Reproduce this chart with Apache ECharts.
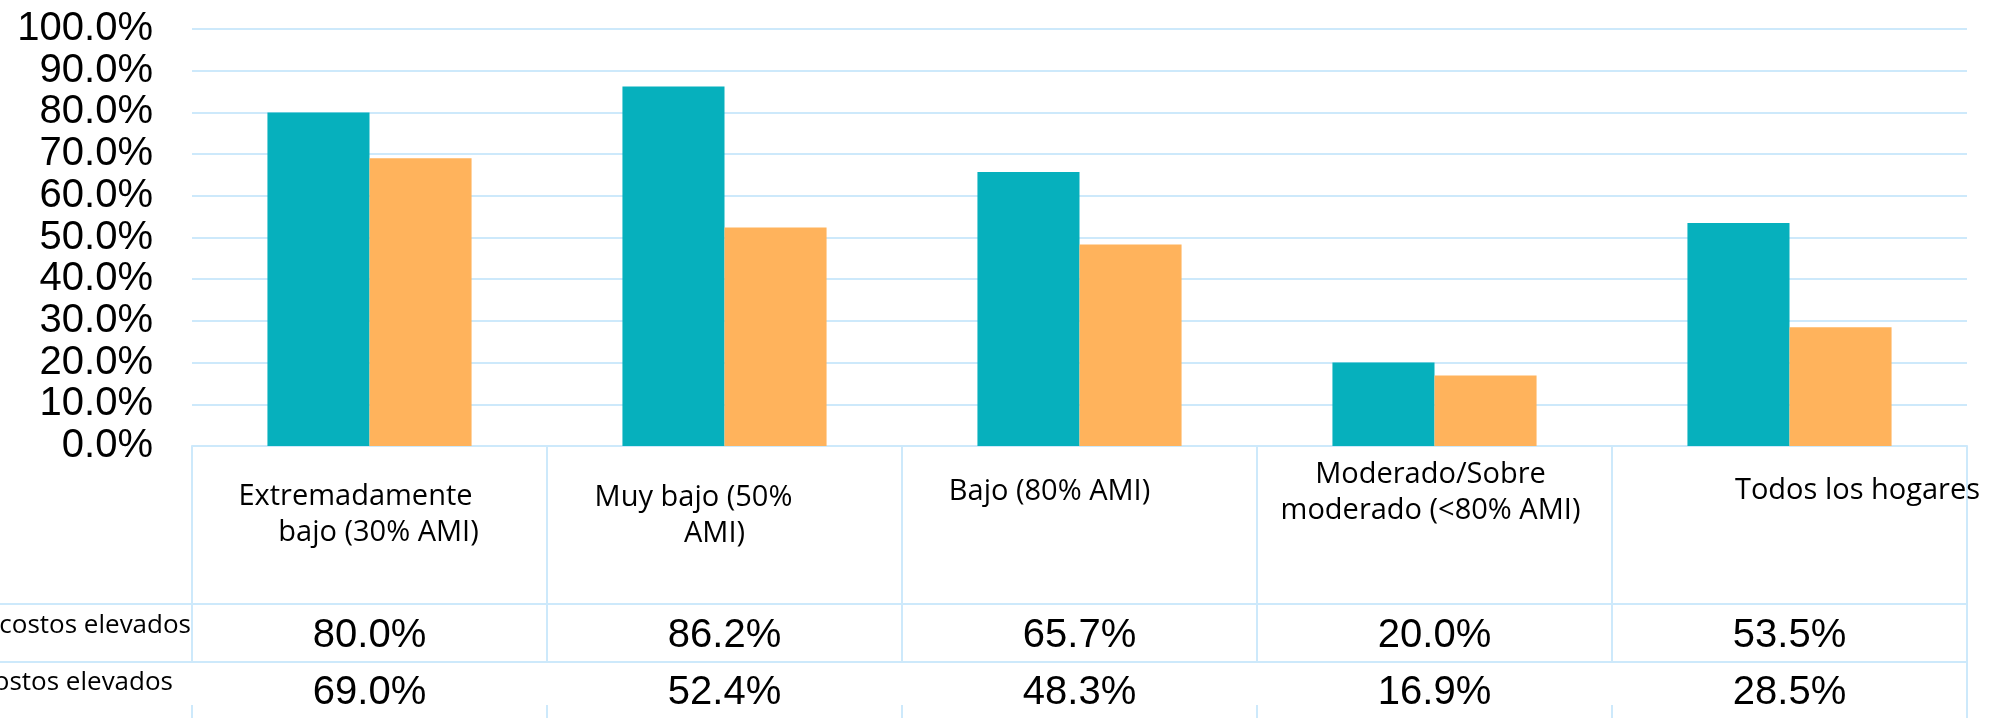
<!DOCTYPE html>
<html>
<head>
<meta charset="utf-8">
<script src="https://cdn.jsdelivr.net/npm/echarts@6/dist/echarts.min.js"></script>
<style>
  html, body { margin: 0; padding: 0; background: #fff; }
  #chart { width: 2006px; height: 718px; }
</style>
</head>
<body>
<div id="chart"></div>
<script>
// data
const categories = [
  'Extremadamente\nbajo (30% AMI)',
  'Muy bajo (50%\nAMI)',
  'Bajo (80% AMI)',
  'Moderado/Sobre\nmoderado (<80% AMI)',
  'Todos los hogares'
];
const seriesNames = ['costos elevados', 'ostos elevados'];
const tealValues = [80.0, 86.2, 65.7, 20.0, 53.5];
const orangeValues = [69.0, 52.4, 48.3, 16.9, 28.5];
const yMin = 0;
const yMax = 100;
const yStep = 10;

// layout
const W = 2006, H = 718;
const GRID_LEFT = 192, GRID_RIGHT = 39, GRID_TOP = 29, AXIS_Y = 446;
const HEAD_H = 158, ROW_H = 58;
const LINE = '#cde9fb';
const TEAL = '#06b0bd';
const ORANGE = '#ffb35c';
// the header labels are not centred the same way in every column
const shiftX = [[-14, 9], [-31, -10], [-30], [-4, -4], [68]];
const shiftY = [22, 23, 17, 0, 16];

const fmt = v => v.toFixed(1) + '%';

const rich = {};
shiftX.forEach((lines, i) => {
  lines.forEach((dx, j) => {
    rich['c' + i + 'l' + j] = {
      padding: [0, dx < 0 ? -2 * dx : 0, 0, dx > 0 ? 2 * dx : 0]
    };
  });
});

const chart = echarts.init(document.getElementById('chart'));

const lineStyle = { color: LINE, width: 2 };

const option = {
  backgroundColor: '#fff',
  animation: false,
  grid: {
    left: GRID_LEFT,
    right: GRID_RIGHT,
    top: GRID_TOP,
    bottom: H - AXIS_Y
  },
  xAxis: [
    {
      type: 'category',
      position: 'bottom',
      data: categories.map((c, i) => ({
        value: c,
        textStyle: { padding: [shiftY[i], 0, 0, 0] }
      })),
      axisLine: { show: true, lineStyle },
      axisTick: { show: true, length: HEAD_H, lineStyle },
      axisLabel: {
        interval: 0,
        margin: 11,
        verticalAlign: 'top',
        fontFamily: 'Open Sans',
        fontSize: 29,
        lineHeight: 36,
        color: '#000',
        formatter: (value, index) =>
          value.split('\n').map((ln, j) => '{c' + index + 'l' + j + '|' + ln + '}').join('\n'),
        rich
      }
    },
    {
      type: 'category',
      position: 'bottom',
      offset: HEAD_H,
      data: tealValues.map(fmt),
      axisLine: { show: false },
      axisTick: { show: true, length: ROW_H, lineStyle },
      axisLabel: {
        interval: 0,
        margin: 32,
        verticalAlign: 'middle',
        fontFamily: 'Liberation Sans',
        fontSize: 40,
        color: '#000'
      }
    },
    {
      type: 'category',
      position: 'bottom',
      offset: HEAD_H + ROW_H,
      data: orangeValues.map(fmt),
      axisLine: { show: false },
      axisTick: { show: false },
      axisLabel: {
        interval: 0,
        margin: 31,
        verticalAlign: 'middle',
        fontFamily: 'Liberation Sans',
        fontSize: 40,
        color: '#000'
      }
    },
    {
      type: 'category',
      position: 'bottom',
      offset: 259,
      data: categories,
      axisLine: { show: false },
      axisTick: { show: true, length: 20, lineStyle },
      axisLabel: { show: false }
    }
  ],
  yAxis: {
    type: 'value',
    min: yMin,
    max: yMax,
    interval: yStep,
    axisLine: { show: false },
    axisTick: { show: false },
    splitLine: { lineStyle },
    axisLabel: {
      margin: 39,
      fontFamily: 'Liberation Sans',
      fontSize: 40,
      color: '#000',
      padding: [0, 0, 7, 0],
      formatter: v => fmt(v)
    }
  },
  series: [
    {
      name: seriesNames[0],
      type: 'bar',
      xAxisIndex: 0,
      data: tealValues,
      barGap: '0%',
      barCategoryGap: '42.5%',
      itemStyle: { color: TEAL }
    },
    {
      name: seriesNames[1],
      type: 'bar',
      xAxisIndex: 0,
      data: orangeValues,
      itemStyle: { color: ORANGE }
    }
  ],
  graphic: [
    {
      type: 'line',
      shape: { x1: 0, y1: AXIS_Y + HEAD_H, x2: W - GRID_RIGHT, y2: AXIS_Y + HEAD_H },
      style: { stroke: LINE, lineWidth: 2 }
    },
    {
      type: 'line',
      shape: { x1: 0, y1: AXIS_Y + HEAD_H + ROW_H, x2: W - GRID_RIGHT, y2: AXIS_Y + HEAD_H + ROW_H },
      style: { stroke: LINE, lineWidth: 2 }
    },
    {
      type: 'line',
      shape: { x1: W - GRID_RIGHT, y1: AXIS_Y + HEAD_H + ROW_H, x2: W - GRID_RIGHT, y2: H },
      style: { stroke: LINE, lineWidth: 2 }
    },
    {
      type: 'text',
      x: 191,
      y: 626,
      style: {
        text: seriesNames[0],
        align: 'right',
        verticalAlign: 'middle',
        fontFamily: 'Open Sans',
        fontSize: 26,
        fill: '#000'
      }
    },
    {
      type: 'text',
      x: 173,
      y: 683,
      style: {
        text: seriesNames[1],
        align: 'right',
        verticalAlign: 'middle',
        fontFamily: 'Open Sans',
        fontSize: 26,
        fill: '#000'
      }
    }
  ]
};

chart.setOption(option);
</script>
</body>
</html>
